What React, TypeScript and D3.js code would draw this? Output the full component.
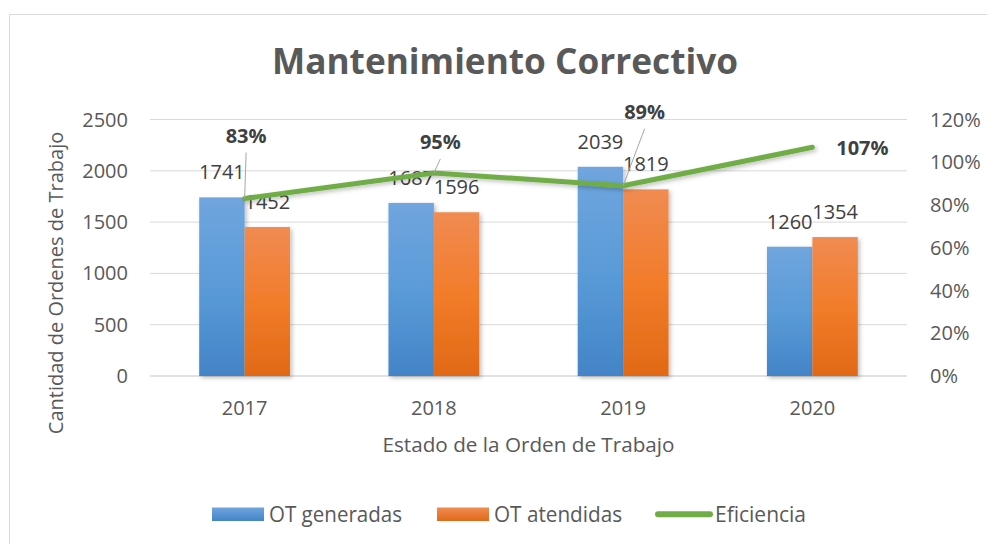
import { scaleBand, scaleLinear, line } from "d3";

// data
const years = ["2017", "2018", "2019", "2020"];
const otGeneradas = [1741, 1687, 2039, 1260];
const otAtendidas = [1452, 1596, 1819, 1354];
const eficiencia = [0.83, 0.95, 0.89, 1.07];
const leftTicks = [0, 500, 1000, 1500, 2000, 2500];
const rightTicks = [0, 0.2, 0.4, 0.6, 0.8, 1.0, 1.2];
const seriesNames = ["OT generadas", "OT atendidas", "Eficiencia"];

// manual placement of the percentage labels (dx, dy from the point)
const pctLabelNudge: [number, number][] = [
  [1.5, -56],
  [6.5, -24],
  [21.5, -67],
  [50, 8],
];
const pctLeader = [true, true, true, false];

const W = 987;
const H = 544;
const plot = { left: 150, right: 907, top: 119.5, bottom: 376 };
const textColor = "#595959";
const labelColor = "#404040";
const font = "'Open Sans', sans-serif";

export default function App() {
  const x = scaleBand<string>()
    .domain(years)
    .range([plot.left, plot.right])
    .paddingInner(0.52)
    .paddingOuter(0.26);
  const inner = scaleBand<string>()
    .domain(["gen", "ate"])
    .range([0, x.bandwidth()]);
  const yL = scaleLinear().domain([0, 2500]).range([plot.bottom, plot.top]);
  const yR = scaleLinear().domain([0, 1.2]).range([plot.bottom, plot.top]);

  const cx = (y: string) => (x(y) ?? 0) + x.bandwidth() / 2;
  const effLine = line<number>()
    .x((_, i) => cx(years[i]))
    .y((d) => yR(d));

  const bars = [
    { key: "gen", values: otGeneradas, fill: "url(#gBlue)" },
    { key: "ate", values: otAtendidas, fill: "url(#gOrange)" },
  ];

  // legend entries: swatch start, swatch width, text start, text width
  const legend = [
    { kind: "rect", fill: "url(#lBlue)", sx: 212, sw: 52, tx: 269, tw: 133 },
    { kind: "rect", fill: "url(#lOrange)", sx: 437, sw: 52, tx: 494, tw: 128 },
    { kind: "line", fill: "#70AD47", sx: 658, sw: 52, tx: 715, tw: 91 },
  ];

  return (
    <svg width={W} height={H} style={{ position: "absolute", left: 0, top: 0 }}>
      <defs>
        <linearGradient id="gBlue" x1="0" y1="0" x2="0" y2="1">
          <stop offset="0%" stopColor="#70A5DE" />
          <stop offset="50%" stopColor="#5A9BD8" />
          <stop offset="100%" stopColor="#4384C7" />
        </linearGradient>
        <linearGradient id="gOrange" x1="0" y1="0" x2="0" y2="1">
          <stop offset="0%" stopColor="#F08B52" />
          <stop offset="50%" stopColor="#F27C2A" />
          <stop offset="100%" stopColor="#E16916" />
        </linearGradient>
        <linearGradient id="lBlue" x1="0" y1="0" x2="0" y2="1">
          <stop offset="0%" stopColor="#70A5DE" />
          <stop offset="100%" stopColor="#4384C7" />
        </linearGradient>
        <linearGradient id="lOrange" x1="0" y1="0" x2="0" y2="1">
          <stop offset="0%" stopColor="#F08B52" />
          <stop offset="100%" stopColor="#E16916" />
        </linearGradient>
        <filter id="shadow" x="-20%" y="-20%" width="140%" height="140%">
          <feDropShadow dx="2" dy="2" stdDeviation="2" floodColor="#000" floodOpacity="0.25" />
        </filter>
      </defs>

      <rect x={0} y={0} width={W} height={H} fill="#fff" />
      {/* chart frame */}
      <line x1={9.5} x2={W} y1={14.5} y2={14.5} stroke="#D9D9D9" />
      <line x1={9.5} x2={9.5} y1={14.5} y2={H} stroke="#D9D9D9" />

      <text
        x={505}
        y={74}
        textAnchor="middle"
        fontFamily={font}
        fontWeight="bold"
        fontSize={35}
        fill={textColor}
        textLength={466}
        lengthAdjust="spacingAndGlyphs"
      >
        Mantenimiento Correctivo
      </text>

      {/* gridlines */}
      {leftTicks.map((t) => (
        <line
          key={t}
          x1={plot.left}
          x2={plot.right}
          y1={yL(t)}
          y2={yL(t)}
          stroke="#D9D9D9"
          strokeWidth={t === 0 ? 1.5 : 1}
        />
      ))}

      {/* left axis */}
      {leftTicks.map((t) => (
        <text
          key={t}
          x={128}
          y={yL(t) + 7}
          textAnchor="end"
          fontFamily={font}
          fontSize={20}
          fill={textColor}
        >
          {t}
        </text>
      ))}
      {/* right axis */}
      {rightTicks.map((t) => (
        <text
          key={t}
          x={930}
          y={yR(t) + 7}
          fontFamily={font}
          fontSize={20}
          fill={textColor}
        >
          {Math.round(t * 100)}%
        </text>
      ))}

      <text
        transform={`translate(63,283) rotate(-90)`}
        textAnchor="middle"
        fontFamily={font}
        fontSize={20}
        fill={textColor}
      >
        Cantidad de Ordenes de Trabajo
      </text>

      {/* bars */}
      {bars.map((s) =>
        s.values.map((v, i) => (
          <rect
            key={s.key + i}
            x={(x(years[i]) ?? 0) + (inner(s.key) ?? 0)}
            y={yL(v)}
            width={inner.bandwidth()}
            height={yL(0) - yL(v)}
            fill={s.fill}
            filter="url(#shadow)"
          />
        ))
      )}

      {/* value labels */}
      {bars.map((s) =>
        s.values.map((v, i) => (
          <text
            key={"l" + s.key + i}
            x={(x(years[i]) ?? 0) + (inner(s.key) ?? 0) + inner.bandwidth() / 2}
            y={yL(v) - 18}
            textAnchor="middle"
            fontFamily={font}
            fontSize={20}
            fill={labelColor}
          >
            {v}
          </text>
        ))
      )}

      {/* efficiency line */}
      <path
        d={effLine(eficiencia) ?? ""}
        fill="none"
        stroke="#70AD47"
        strokeWidth={5}
        strokeLinecap="round"
        strokeLinejoin="round"
        filter="url(#shadow)"
      />

      {/* percentage labels */}
      {eficiencia.map((v, i) => {
        const px = cx(years[i]);
        const py = yR(v);
        const lx = px + pctLabelNudge[i][0];
        const ly = py + pctLabelNudge[i][1];
        return (
          <g key={"p" + i}>
            {pctLeader[i] && (
              <line x1={lx} y1={ly + 10} x2={px} y2={py} stroke="#A6A6A6" strokeWidth={1} />
            )}
            <text
              x={lx}
              y={ly}
              textAnchor="middle"
              fontFamily={font}
              fontWeight="bold"
              fontSize={20}
              fill={labelColor}
            >
              {Math.round(v * 100)}%
            </text>
          </g>
        );
      })}

      {/* x axis labels */}
      {years.map((y) => (
        <text
          key={y}
          x={cx(y)}
          y={415}
          textAnchor="middle"
          fontFamily={font}
          fontSize={20}
          fill={textColor}
        >
          {y}
        </text>
      ))}
      <text
        x={528.5}
        y={452}
        textAnchor="middle"
        fontFamily={font}
        fontSize={20}
        fill={textColor}
        textLength={292}
        lengthAdjust="spacingAndGlyphs"
      >
        Estado de la Orden de Trabajo
      </text>

      {/* legend */}
      {legend.map((e, i) => (
        <g key={"lg" + i}>
          {e.kind === "rect" ? (
            <rect x={e.sx} y={507.5} width={e.sw} height={13.5} fill={e.fill} />
          ) : (
            <line
              x1={e.sx}
              x2={e.sx + e.sw}
              y1={514.3}
              y2={514.3}
              stroke={e.fill}
              strokeWidth={6}
              strokeLinecap="round"
            />
          )}
          <text
            x={e.tx}
            y={521.7}
            fontFamily={font}
            fontSize={21}
            fill={textColor}
            textLength={e.tw}
            lengthAdjust="spacingAndGlyphs"
          >
            {seriesNames[i]}
          </text>
        </g>
      ))}
    </svg>
  );
}
